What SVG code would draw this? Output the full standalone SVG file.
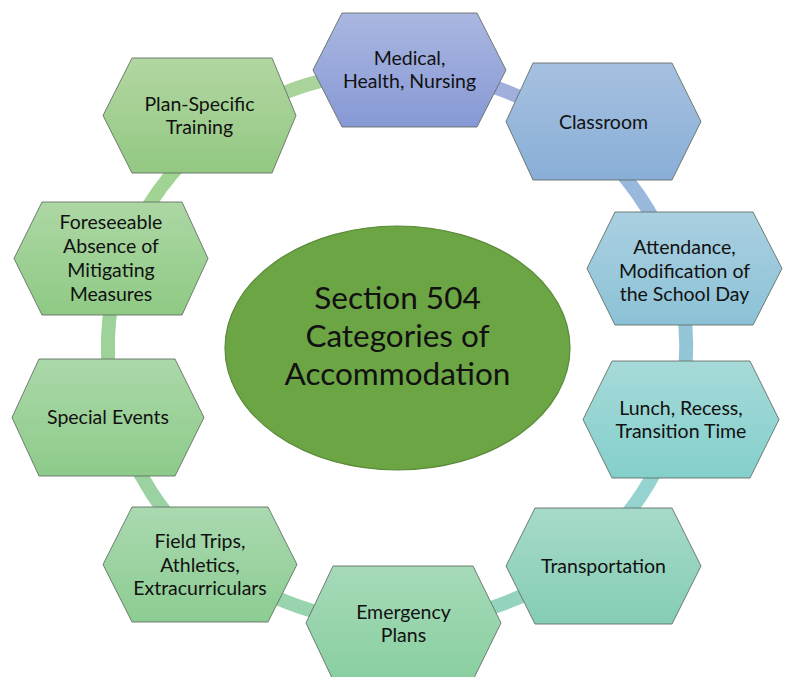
<svg xmlns="http://www.w3.org/2000/svg" width="787" height="677" viewBox="0 0 787 677">
<style>
.hex{stroke:#5f6a60;stroke-width:1;stroke-opacity:0.85}
.lbl{font-family:Lato,"Liberation Sans","DejaVu Sans",sans-serif;font-size:19.5px;fill:#111;text-anchor:middle}
.ctr{font-family:Lato,"Liberation Sans","DejaVu Sans",sans-serif;font-size:31.5px;fill:#111;text-anchor:middle}
.ring{fill:none;stroke-width:14}
</style>
<defs>
<linearGradient id="g1" x1="0" y1="0" x2="0" y2="1"><stop offset="0" stop-color="#aab7e1"/><stop offset="1" stop-color="#8799d5"/></linearGradient>
<linearGradient id="g2" x1="0" y1="0" x2="0" y2="1"><stop offset="0" stop-color="#a6c1e0"/><stop offset="1" stop-color="#89aed7"/></linearGradient>
<linearGradient id="g3" x1="0" y1="0" x2="0" y2="1"><stop offset="0" stop-color="#aad0e1"/><stop offset="1" stop-color="#8cc2d6"/></linearGradient>
<linearGradient id="g4" x1="0" y1="0" x2="0" y2="1"><stop offset="0" stop-color="#a6dad9"/><stop offset="1" stop-color="#84cfcb"/></linearGradient>
<linearGradient id="g5" x1="0" y1="0" x2="0" y2="1"><stop offset="0" stop-color="#a6dac9"/><stop offset="1" stop-color="#85cdb4"/></linearGradient>
<linearGradient id="g6" x1="0" y1="0" x2="0" y2="1"><stop offset="0" stop-color="#a6dab9"/><stop offset="1" stop-color="#89cfa0"/></linearGradient>
<linearGradient id="g7" x1="0" y1="0" x2="0" y2="1"><stop offset="0" stop-color="#aad9b0"/><stop offset="1" stop-color="#8ccc92"/></linearGradient>
<linearGradient id="g8" x1="0" y1="0" x2="0" y2="1"><stop offset="0" stop-color="#abd8a8"/><stop offset="1" stop-color="#8dcb8a"/></linearGradient>
<linearGradient id="g9" x1="0" y1="0" x2="0" y2="1"><stop offset="0" stop-color="#add7a4"/><stop offset="1" stop-color="#8fca85"/></linearGradient>
<linearGradient id="g10" x1="0" y1="0" x2="0" y2="1"><stop offset="0" stop-color="#b2d7a2"/><stop offset="1" stop-color="#93c882"/></linearGradient>
</defs>
<rect width="787" height="677" fill="#ffffff"/>
<g id="connectors">
<path class="ring" stroke="#a0afdc" d="M410.6,71.3 A289,276 0 0 1 589.6,141.2"/>
<path class="ring" stroke="#98b8dc" d="M589.6,141.2 A289,276 0 0 1 675.4,272.8"/>
<path class="ring" stroke="#94c6d8" d="M675.4,272.8 A289,276 0 0 1 676.2,418.4"/>
<path class="ring" stroke="#94d3d0" d="M676.2,418.4 A289,276 0 0 1 591.5,551.1"/>
<path class="ring" stroke="#94d4be" d="M591.5,551.1 A289,276 0 0 1 405.1,622.9"/>
<path class="ring" stroke="#98d4ae" d="M405.1,622.9 A289,276 0 0 1 207.8,555.6"/>
<path class="ring" stroke="#9ad3a1" d="M207.8,555.6 A289,276 0 0 1 117.1,415.6"/>
<path class="ring" stroke="#9dd39a" d="M117.1,415.6 A289,276 0 0 1 121.7,263.1"/>
<path class="ring" stroke="#a1d395" d="M121.7,263.1 A289,276 0 0 1 213.2,134.0"/>
<path class="ring" stroke="#a9d49c" d="M213.2,134.0 A289,276 0 0 1 410.6,71.3"/>
</g>
<g id="center">
<ellipse cx="397.5" cy="348" rx="172.5" ry="122" fill="#6ca544" stroke="#5a8a3a" stroke-width="1.2"/>
<text class="ctr" x="397.5" y="309">Section 504</text>
<text class="ctr" x="397.5" y="347">Categories of</text>
<text class="ctr" x="397.5" y="385">Accommodation</text>
</g>
<g id="n1">
<polygon class="hex" fill="url(#g1)" points="342,13 477,13 506,70 477,127 342,127 313,70"/>
<text class="lbl" x="409.5" y="65">Medical,</text>
<text class="lbl" x="409.5" y="88">Health, Nursing</text>
</g>
<g id="n2">
<polygon class="hex" fill="url(#g2)" points="533,63 672,63 701,121.5 672,180 533,180 506,121.5"/>
<text class="lbl" x="603.5" y="128.5">Classroom</text>
</g>
<g id="n3">
<polygon class="hex" fill="url(#g3)" points="615,212 753,212 782,268.5 753,325 615,325 587,268.5"/>
<text class="lbl" x="684.5" y="254">Attendance,</text>
<text class="lbl" x="684.5" y="277.5">Modification of</text>
<text class="lbl" x="684.5" y="301">the School Day</text>
</g>
<g id="n4">
<polygon class="hex" fill="url(#g4)" points="612,361 750,361 779,419.5 750,478 612,478 583,419.5"/>
<text class="lbl" x="681" y="415">Lunch, Recess,</text>
<text class="lbl" x="681" y="438">Transition Time</text>
</g>
<g id="n5">
<polygon class="hex" fill="url(#g5)" points="535,508 672,508 701,566 672,624 535,624 506,566"/>
<text class="lbl" x="603.5" y="572.5">Transportation</text>
</g>
<g id="n6">
<polygon class="hex" fill="url(#g6)" points="333,566 473,566 501,623 473,680 333,680 306,623"/>
<text class="lbl" x="403.5" y="619">Emergency</text>
<text class="lbl" x="403.5" y="642">Plans</text>
</g>
<g id="n7">
<polygon class="hex" fill="url(#g7)" points="132,507 268,507 297,564.5 268,622 132,622 103,564.5"/>
<text class="lbl" x="200" y="548">Field Trips,</text>
<text class="lbl" x="200" y="571.5">Athletics,</text>
<text class="lbl" x="200" y="595">Extracurriculars</text>
</g>
<g id="n8">
<polygon class="hex" fill="url(#g8)" points="39,359 175,359 204,417.5 175,476 39,476 12,417.5"/>
<text class="lbl" x="108" y="424">Special Events</text>
</g>
<g id="n9">
<polygon class="hex" fill="url(#g9)" points="42,202 182,202 208,258.5 182,315 42,315 14,258.5"/>
<text class="lbl" x="111" y="229">Foreseeable</text>
<text class="lbl" x="111" y="253">Absence of</text>
<text class="lbl" x="111" y="277">Mitigating</text>
<text class="lbl" x="111" y="301">Measures</text>
</g>
<g id="n10">
<polygon class="hex" fill="url(#g10)" points="132,58 272,58 296,115.5 272,173 132,173 103,115.5"/>
<text class="lbl" x="199.5" y="111">Plan-Specific</text>
<text class="lbl" x="199.5" y="134">Training</text>
</g>
</svg>
